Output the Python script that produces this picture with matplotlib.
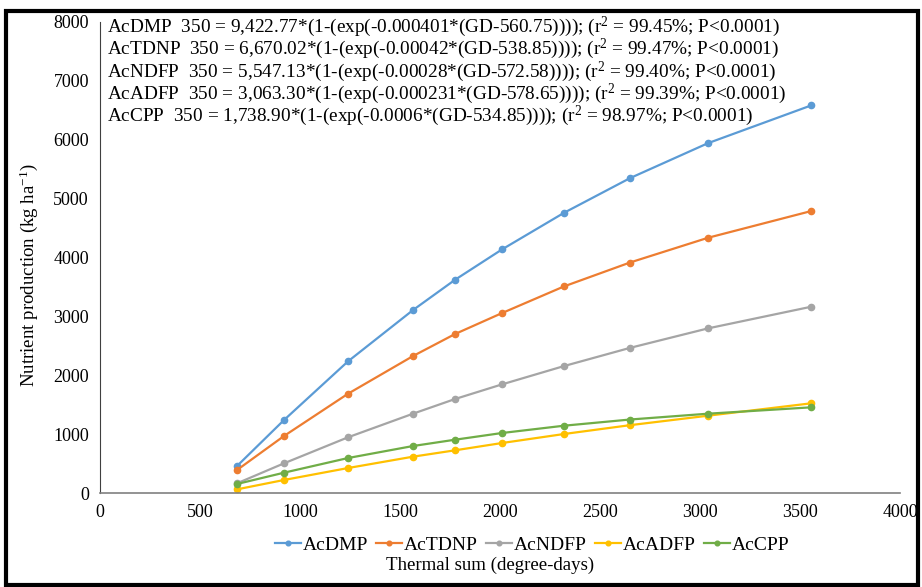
import matplotlib
matplotlib.use("Agg")
import matplotlib.pyplot as plt
from matplotlib.patches import Rectangle

plt.rcParams['font.family'] = ['Liberation Serif', 'DejaVu Serif']
plt.rcParams['mathtext.fontset'] = 'custom'
plt.rcParams['mathtext.rm'] = 'Liberation Serif'
plt.rcParams['mathtext.it'] = 'Liberation Serif'

gd = [685, 920, 1240, 1565, 1775, 2010, 2320, 2650, 3040, 3555]
series_names = ["AcDMP", "AcTDNP", "AcNDFP", "AcADFP", "AcCPP"]
ac_dmp = [458, 1239, 2236, 3107, 3621, 4137, 4759, 5348, 5942, 6582]
ac_tdnp = [390, 968, 1686, 2326, 2700, 3056, 3509, 3915, 4335, 4788]
ac_ndfp = [164, 504, 946, 1347, 1596, 1845, 2156, 2465, 2796, 3163]
ac_adfp = [62, 221, 424, 617, 725, 849, 1002, 1152, 1313, 1523]
ac_cpp = [153, 345, 594, 798, 905, 1019, 1143, 1248, 1347, 1455]
colors = ["#5B9BD5", "#ED7D31", "#A5A5A5", "#FFC000", "#70AD47"]

equations = [
    r"AcDMP  350 = 9,422.77*(1-(exp(-0.000401*(GD-560.75)))); (r$^{2}$ = 99.45%; P<0.0001)",
    r"AcTDNP  350 = 6,670.02*(1-(exp(-0.00042*(GD-538.85)))); (r$^{2}$ = 99.47%; P<0.0001)",
    r"AcNDFP  350 = 5,547.13*(1-(exp(-0.00028*(GD-572.58)))); (r$^{2}$ = 99.40%; P<0.0001)",
    r"AcADFP  350 = 3,063.30*(1-(exp(-0.000231*(GD-578.65)))); (r$^{2}$ = 99.39%; P<0.0001)",
    r"AcCPP  350 = 1,738.90*(1-(exp(-0.0006*(GD-534.85)))); (r$^{2}$ = 98.97%; P<0.0001)",
]

fig = plt.figure(figsize=(9.22, 5.87), dpi=100)
ax = fig.add_axes([100/922, 1-493/587, 800/922, 471/587])

all_series = [ac_dmp, ac_tdnp, ac_ndfp, ac_adfp, ac_cpp]
for name, vals, c in zip(series_names, all_series, colors):
    ax.plot(gd, vals, color=c, lw=1.6, marker='o', ms=4.5, label=name)

ax.set_xlim(0, 4000)
ax.set_ylim(0, 8000)
ax.set_xticks(range(0, 4001, 500))
ax.set_yticks(range(0, 8001, 1000))
for s in ['top', 'right']:
    ax.spines[s].set_visible(False)
ax.spines['bottom'].set_color('#808080')
ax.spines['bottom'].set_linewidth(1.2)
ax.spines['left'].set_color('#404040')
ax.spines['left'].set_linewidth(0.8)
ax.tick_params(length=0, labelsize=13, pad=8)

for i, eq in enumerate(equations):
    fig.text(107/922, 1-(27+22.2*i)/587, eq, fontsize=13.9, va='center', ha='left')

ax.set_ylabel("Nutrient production (kg ha$^{-1}$)", fontsize=13.6)
ax.yaxis.set_label_coords(-60/800, 0.463)
fig.text(490/922, 1-565/587, "Thermal sum (degree-days)", fontsize=13.6, ha='center', va='center')

leg = fig.legend(loc='center', bbox_to_anchor=(532/922, 1-545/587), ncol=5, frameon=False,
                 fontsize=14, handlelength=1.35, handletextpad=0.1, columnspacing=0.4,
                 markerscale=0.75)

fig.patches.append(Rectangle((6/922, 2/587), 912/922, 574/587, transform=fig.transFigure,
                             fill=False, edgecolor='black', lw=3))

fig.savefig("out.png", dpi=100)
